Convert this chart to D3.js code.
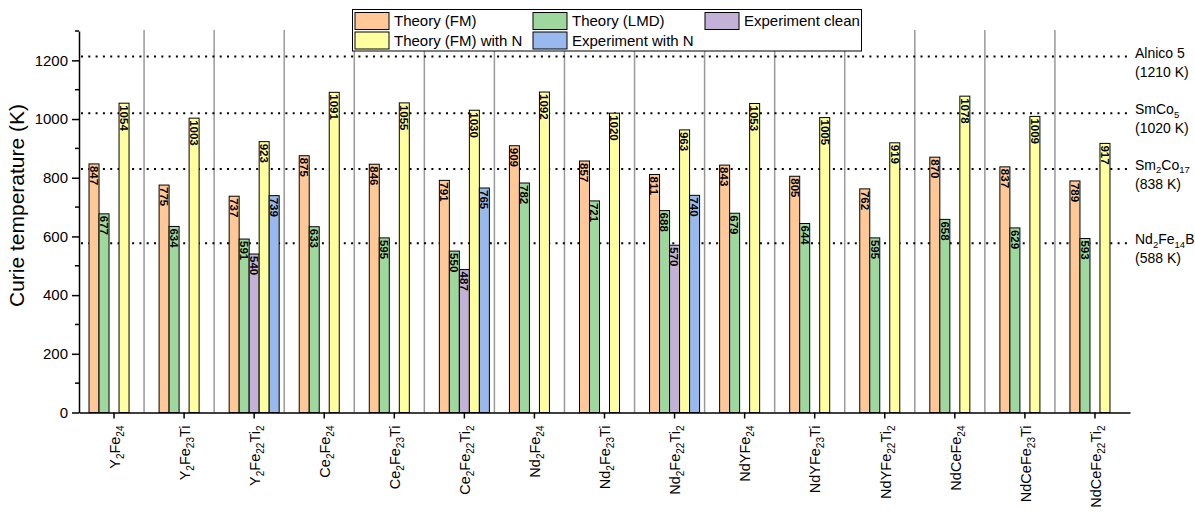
<!DOCTYPE html>
<html>
<head>
<meta charset="utf-8">
<script src="https://cdn.jsdelivr.net/npm/d3@7"></script>
<style>
  body { margin: 0; background: #fff; }
  text { font-family: "Liberation Sans", Arial, sans-serif; fill: #000; }
</style>
</head>
<body>
<svg id="chart" width="1195" height="512"></svg>
<script>
// {n} marks a subscript
const compounds = [
  "Y{2}Fe{24}", "Y{2}Fe{23}Ti", "Y{2}Fe{22}Ti{2}",
  "Ce{2}Fe{24}", "Ce{2}Fe{23}Ti", "Ce{2}Fe{22}Ti{2}",
  "Nd{2}Fe{24}", "Nd{2}Fe{23}Ti", "Nd{2}Fe{22}Ti{2}",
  "NdYFe{24}", "NdYFe{23}Ti", "NdYFe{22}Ti{2}",
  "NdCeFe{24}", "NdCeFe{23}Ti", "NdCeFe{22}Ti{2}"
]
const theoryFM   = [847, 775, 737, 875, 846, 791, 909, 857, 811, 843, 805, 762, 870, 837, 789]
const theoryLMD  = [677, 634, 591, 633, 595, 550, 782, 721, 688, 679, 644, 595, 658, 629, 593]
const expClean   = [null, null, 540, null, null, 487, null, null, 570, null, null, null, null, null, null]
const theoryFMN  = [1054, 1003, 923, 1091, 1055, 1030, 1092, 1020, 963, 1053, 1005, 919, 1078, 1009, 917]
const expN       = [null, null, 739, null, null, 765, null, null, 740, null, null, null, null, null, null]

const seriesNames = ["Theory (FM)", "Theory (LMD)", "Experiment clean", "Theory (FM) with N", "Experiment with N"]
const seriesColors = ["#FFC896", "#9FD89F", "#C3B1D8", "#FFFF9F", "#99B8EE"]
const seriesValues = [theoryFM, theoryLMD, expClean, theoryFMN, expN]

// reference magnets: label, quoted Tc, level where the dotted line sits in the figure
const refNames  = ["Alnico 5", "SmCo{5}", "Sm{2}Co{17}", "Nd{2}Fe{14}B"]
const refTc     = [1210, 1020, 838, 588]
const refLevels = [1213, 1020, 830, 577]

const yTicks = [0, 200, 400, 600, 800, 1000, 1200]
const yMinor = [100, 300, 500, 700, 900, 1100, 1300]

const svg = d3.select("#chart")
const plotLeft = 79, plotRight = 1130, plotBottom = 412.5, plotTop = 31

const x = d3.scaleBand().domain(compounds).range([plotLeft, plotRight])
const bw = x.bandwidth()
const slot = d3.scaleBand().domain(d3.range(5)).range([bw * 0.143, bw * 0.857])
const y = d3.scaleLinear().domain([0, 1300]).range([plotBottom, plotTop])

// writes "A{2}B" style labels with subscript tspans
const richText = (sel, label, size, subSize, shift) => {
  const parts = label.split(/(\{\d+\})/).filter(s => s)
  let down = false
  parts.forEach(p => {
    const isSub = p.startsWith("{")
    const t = sel.append("tspan").text(isSub ? p.slice(1, -1) : p)
      .attr("font-size", isSub ? subSize : size)
    if (isSub && !down) { t.attr("dy", shift); down = true }
    else if (!isSub && down) { t.attr("dy", -shift); down = false }
  })
}

// group dividers
svg.append("g")
  .selectAll("line")
  .data(compounds.slice(0, -1))
  .join("line")
  .attr("x1", d => x(d) + bw - 5)
  .attr("x2", d => x(d) + bw - 5)
  .attr("y1", 30)
  .attr("y2", plotBottom)
  .attr("stroke", "#999")
  .attr("stroke-width", 1.5)

// reference dotted lines
svg.append("g")
  .selectAll("line")
  .data(refLevels)
  .join("line")
  .attr("x1", plotLeft + 2)
  .attr("x2", plotRight)
  .attr("y1", d => y(d))
  .attr("y2", d => y(d))
  .attr("stroke", "#000")
  .attr("stroke-width", 2)
  .attr("stroke-dasharray", "2,5.3")

const refText = svg.append("g")
refNames.forEach((name, i) => {
  const ly = y(refLevels[i])
  const t1 = refText.append("text").attr("x", plotRight + 5).attr("y", ly + 1)
  richText(t1, name, 14, 9.5, 3.5)
  refText.append("text").attr("x", plotRight + 5).attr("y", ly + 20)
    .attr("font-size", 14).text(`(${refTc[i]} K)`)
})

// bars
const bars = []
compounds.forEach((c, i) => {
  seriesValues.forEach((vals, s) => {
    if (vals[i] != null) bars.push({ c, s, v: vals[i] })
  })
})

const barG = svg.append("g")
barG.selectAll("rect")
  .data(bars)
  .join("rect")
  .attr("x", d => x(d.c) + slot(d.s))
  .attr("y", d => y(d.v))
  .attr("width", slot.bandwidth())
  .attr("height", d => y(0) - y(d.v))
  .attr("fill", d => seriesColors[d.s])
  .attr("stroke", "#000")
  .attr("stroke-width", 1)

barG.selectAll("text")
  .data(bars)
  .join("text")
  .attr("transform", d => `translate(${x(d.c) + slot(d.s) + slot.bandwidth() / 2},${y(d.v) + 2}) rotate(90)`)
  .attr("dy", "0.36em")
  .attr("font-size", 11.5)
  .attr("font-weight", "bold")
  .text(d => d.v)

// axes
svg.append("g")
  .attr("transform", `translate(${plotLeft},0)`)
  .call(d3.axisLeft(y).tickValues(yTicks).tickFormat(d3.format("d")).tickSize(7).tickSizeOuter(0).tickPadding(4))
  .call(g => g.selectAll("text").attr("font-size", 15).attr("font-family", "Liberation Sans, Arial"))
  .call(g => g.selectAll("line, path").attr("stroke", "#000").attr("stroke-width", 1.5))

svg.append("g")
  .attr("transform", `translate(${plotLeft},0)`)
  .selectAll("line")
  .data(yMinor)
  .join("line")
  .attr("x1", -4).attr("x2", 0)
  .attr("y1", d => y(d)).attr("y2", d => y(d))
  .attr("stroke", "#000").attr("stroke-width", 1.5)

svg.append("g")
  .attr("transform", `translate(0,${plotBottom})`)
  .call(d3.axisBottom(x).tickSize(6).tickSizeOuter(0).tickFormat(""))
  .call(g => g.selectAll("line, path").attr("stroke", "#000").attr("stroke-width", 1.5))

const xl = svg.append("g")
compounds.forEach(c => {
  const t = xl.append("text")
    .attr("transform", `translate(${x(c) + bw / 2},${plotBottom + 13}) rotate(-90)`)
    .attr("text-anchor", "end")
    .attr("dy", "0.36em")
  richText(t, c, 14.5, 10, 4)
})

svg.append("text")
  .attr("transform", `translate(24,${(98 + 313) / 2}) rotate(-90)`)
  .attr("text-anchor", "middle")
  .attr("font-size", 21)
  .text("Curie temperature (K)")

// legend
const legend = svg.append("g")
legend.append("rect")
  .attr("x", 352.5).attr("y", 9.5).attr("width", 509).attr("height", 41.5)
  .attr("fill", "#fff").attr("stroke", "#000").attr("stroke-width", 1)
const legendCols = [355, 533, 705]
const legendPos = [[0, 0], [1, 0], [2, 0], [0, 1], [1, 1]]
seriesNames.forEach((name, s) => {
  const [col, row] = legendPos[s]
  const lx = legendCols[col], ly = 12.5 + row * 19.5
  legend.append("rect")
    .attr("x", lx).attr("y", ly).attr("width", 34).attr("height", 17)
    .attr("fill", seriesColors[s]).attr("stroke", "#000").attr("stroke-width", 1)
  legend.append("text")
    .attr("x", lx + 39).attr("y", ly + 8.5).attr("dy", "0.36em")
    .attr("font-size", 15)
    .text(name)
})
</script>
</body>
</html>
